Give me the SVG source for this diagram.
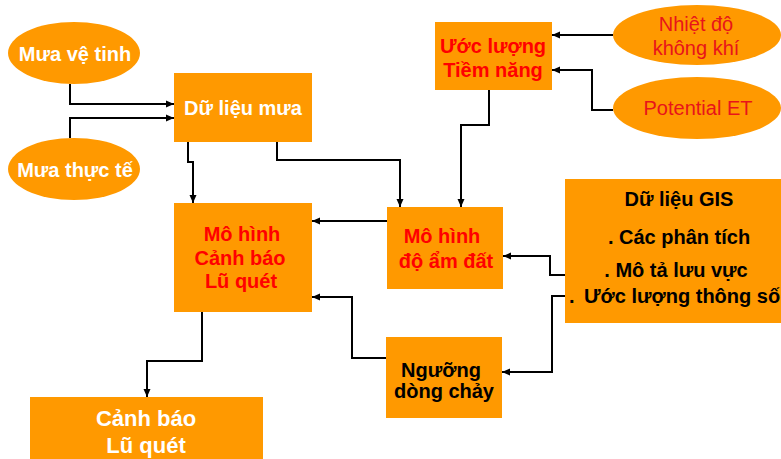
<svg xmlns="http://www.w3.org/2000/svg" width="781" height="459" viewBox="0 0 781 459">
<style>
.box{fill:#FF9900}
.t{font-family:"Liberation Sans",Arial,sans-serif;font-size:20px;text-anchor:middle}
.b{font-weight:bold}
.w{fill:#FFFFFF}
.r{fill:#FF0000}
.rn{fill:#E8141A}
.k{fill:#000000}
.c{fill:none;stroke:#000;stroke-width:2;marker-end:url(#ah)}
</style>
<defs>
<marker id="ah" markerUnits="userSpaceOnUse" markerWidth="9" markerHeight="8" refX="8" refY="4" orient="auto">
<path d="M0,0.5 L8,4 L0,7.5 z" fill="#000"/>
</marker>
</defs>
<rect width="781" height="459" fill="#FFFFFF"/>
<g id="connectors">
<path class="c" d="M70,84 V104 H174"/>
<path class="c" d="M70,138 V118 H174"/>
<path class="c" d="M188,142 V162 H193 V203"/>
<path class="c" d="M277,142 V160 H400 V207"/>
<path class="c" d="M489,90 V125 H461 V207"/>
<path class="c" d="M613,35 H552"/>
<path class="c" d="M613,110 H592 V70 H552"/>
<path class="c" d="M565,275 H550 V256 H503"/>
<path class="c" d="M565,296 H552 V372 H502"/>
<path class="c" d="M387,221 H312"/>
<path class="c" d="M386,358 H352 V297 H312"/>
<path class="c" d="M202,312 V361 H147 V397"/>
</g>
<g id="mua-ve-tinh">
<ellipse class="box" cx="74" cy="53" rx="66" ry="31"/>
<text class="t b w" x="75" y="61">Mưa vệ tinh</text>
</g>
<g id="mua-thuc-te">
<ellipse class="box" cx="74" cy="169" rx="66" ry="31"/>
<text class="t b w" x="75" y="177">Mưa thực tế</text>
</g>
<g id="du-lieu-mua">
<rect class="box" x="174" y="73" width="138" height="69"/>
<text class="t b w" x="243" y="115">Dữ liệu mưa</text>
</g>
<g id="uoc-luong">
<rect class="box" x="435" y="22" width="117" height="68"/>
<text class="t b r" x="493" y="53">Ước lượng</text>
<text class="t b r" x="493" y="77">Tiềm năng</text>
</g>
<g id="nhiet-do">
<ellipse class="box" cx="697" cy="35" rx="84" ry="30"/>
<text class="t rn" x="696" y="31">Nhiệt độ</text>
<text class="t rn" x="696" y="55">không khí</text>
</g>
<g id="potential-et">
<ellipse class="box" cx="697" cy="108" rx="84" ry="31"/>
<text class="t rn" x="698" y="115">Potential ET</text>
</g>
<g id="mo-hinh-canh-bao">
<rect class="box" x="174" y="203" width="138" height="109"/>
<text class="t b r" x="242" y="241">Mô hình</text>
<text class="t b r" x="240" y="265">Cảnh báo</text>
<text class="t b r" x="241" y="288">Lũ quét</text>
</g>
<g id="mo-hinh-do-am">
<rect class="box" x="387" y="207" width="116" height="82"/>
<text class="t b r" x="442" y="243">Mô hình</text>
<text class="t b r" x="446" y="268">độ ẩm đất</text>
</g>
<g id="du-lieu-gis">
<rect class="box" x="565" y="179" width="220" height="144"/>
<text class="t b k" x="679" y="206">Dữ liệu GIS</text>
<text class="t b k" x="679" y="244">. Các phân tích</text>
<text class="t b k" x="676" y="277">. Mô tả lưu vực</text>
<text class="t b k" x="569" y="303" style="text-anchor:start">.<tspan x="584">Ước lượng thông số</tspan></text>
</g>
<g id="nguong">
<rect class="box" x="386" y="337" width="116" height="81"/>
<text class="t b k" x="441" y="377">Ngưỡng</text>
<text class="t b k" x="444" y="398">dòng chảy</text>
</g>
<g id="canh-bao">
<rect class="box" x="30" y="397" width="233" height="70"/>
<text class="t b w" x="146" y="426" style="font-size:22px">Cảnh báo</text>
<text class="t b w" x="146" y="453" style="font-size:22px">Lũ quét</text>
</g>
</svg>
